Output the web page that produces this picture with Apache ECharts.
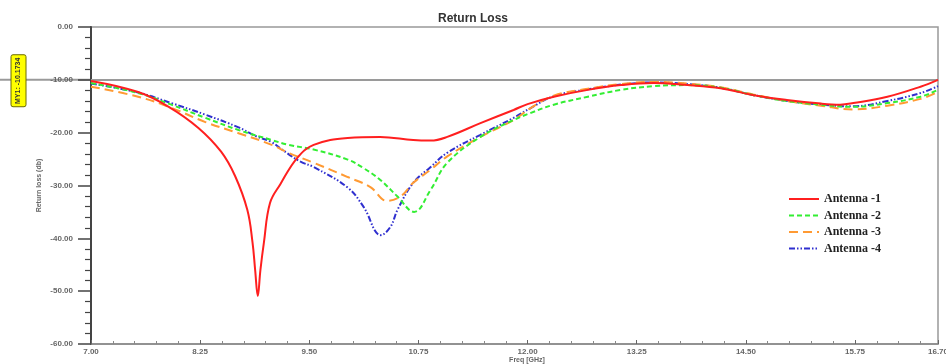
<!DOCTYPE html>
<html>
<head>
<meta charset="utf-8">
<script src="https://cdn.jsdelivr.net/npm/echarts@6/dist/echarts.min.js"></script>
<style>html,body{margin:0;padding:0;background:#fff}#c{width:946px;height:364px}</style>
</head>
<body>
<div id="c"></div>
<script>
var names = ['Antenna -1', 'Antenna -2', 'Antenna -3', 'Antenna -4'];
var freq1 = [7.0, 7.54, 7.89, 8.23, 8.49, 8.65, 8.79, 8.85, 8.88, 8.91, 8.94, 8.98, 9.05, 9.17, 9.36, 9.55, 9.94, 10.31, 10.69, 10.89, 11.08, 11.46, 11.84, 12.0, 12.3, 12.69, 13.07, 13.44, 13.83, 14.21, 14.59, 14.97, 15.36, 15.58, 15.73, 16.12, 16.5, 16.7];
var rl1   = [-10.2, -12.3, -15.1, -19.1, -23.6, -28.2, -34.6, -40.8, -46.0, -50.9, -46.0, -40.8, -33.3, -29.7, -24.8, -22.3, -21.0, -20.8, -21.4, -21.5, -20.8, -18.2, -15.7, -14.6, -13.2, -11.9, -11.0, -10.6, -11.0, -11.6, -12.9, -13.8, -14.5, -14.7, -14.4, -13.2, -11.3, -10.0];
var freq2 = [7.0, 7.54, 7.92, 8.31, 8.69, 9.07, 9.26, 9.55, 9.94, 10.12, 10.31, 10.51, 10.7, 10.89, 11.08, 11.46, 11.84, 12.03, 12.3, 12.69, 13.07, 13.44, 13.83, 14.21, 14.59, 14.97, 15.36, 15.73, 16.12, 16.5, 16.7];
var rl2   = [-10.6, -12.5, -14.7, -17.2, -19.5, -21.4, -22.3, -23.2, -25.1, -26.7, -28.9, -32.1, -35.0, -30.8, -25.7, -20.8, -17.6, -16.3, -14.7, -13.2, -11.9, -11.2, -11.0, -11.5, -12.9, -14.0, -14.7, -15.1, -14.4, -13.2, -11.9];
var freq3 = [7.0, 7.54, 7.92, 8.31, 8.69, 9.07, 9.26, 9.55, 9.94, 10.2, 10.39, 10.55, 10.69, 10.89, 11.08, 11.46, 11.84, 12.03, 12.3, 12.69, 13.07, 13.44, 13.83, 14.21, 14.59, 14.97, 15.36, 15.73, 16.12, 16.5, 16.7];
var rl3   = [-11.3, -13.2, -15.3, -18.0, -20.1, -22.3, -23.8, -25.7, -28.4, -30.3, -32.9, -32.0, -29.5, -27.0, -24.5, -20.8, -17.6, -15.4, -13.0, -11.7, -10.8, -10.4, -10.7, -11.4, -12.8, -14.0, -14.9, -15.6, -14.9, -13.6, -12.3];
var freq4 = [7.0, 7.54, 7.92, 8.31, 8.69, 8.88, 9.07, 9.17, 9.4, 9.55, 9.94, 10.12, 10.32, 10.43, 10.51, 10.69, 10.89, 11.08, 11.46, 11.84, 12.03, 12.3, 12.69, 13.07, 13.44, 13.83, 14.21, 14.59, 14.97, 15.36, 15.73, 16.12, 16.5, 16.7];
var rl4   = [-10.7, -12.4, -14.4, -16.6, -19.0, -20.6, -21.8, -23.0, -25.5, -26.5, -30.4, -34.0, -39.4, -37.8, -34.6, -29.5, -26.5, -23.8, -20.4, -17.2, -15.4, -13.1, -11.8, -10.9, -10.5, -10.8, -11.5, -12.9, -14.0, -14.7, -15.0, -14.0, -12.5, -11.2];
var markerValue = -10.1734;
var markerLabel = 'MY1: -10.1734';

function pairs(f, v) { return f.map(function (x, i) { return [x, v[i]]; }); }
var colors = ['#ff1f1f', '#33ee33', '#ff9a33', '#2f2fcf'];
var dashes = ['solid', [5, 3], [9, 5], [6, 2, 1.5, 2, 1.5, 2]];
var sets = [[freq1, rl1], [freq2, rl2], [freq3, rl3], [freq4, rl4]];

var chart = echarts.init(document.getElementById('c'), null, {renderer: 'canvas'});
var series = sets.map(function (s, i) {
  return {
    name: names[i], type: 'line', data: pairs(s[0], s[1]),
    smooth: 0.4, showSymbol: false, symbol: 'none', z: 10 - i,
    lineStyle: {color: colors[i], width: 2, type: dashes[i]},
    itemStyle: {color: colors[i]}
  };
});
series[0].markLine = {
  silent: true, symbol: 'none', label: {show: false},
  lineStyle: {color: '#9a9a9a', width: 2, type: 'solid'},
  data: [{yAxis: -10}]
};

var axisLabelStyle = {color: '#666', fontSize: 8, fontFamily: 'Arial, Liberation Sans, sans-serif', fontWeight: 'bold'};
chart.setOption({
  animation: false,
  backgroundColor: '#fff',
  title: {text: 'Return Loss', left: 'center', top: 8,
    textStyle: {fontSize: 12, fontWeight: 'bold', color: '#333', fontFamily: 'Arial, Liberation Sans, sans-serif'}},
  grid: {left: 91, right: 8, top: 27, bottom: 20, show: true, borderColor: '#999', borderWidth: 1.5,
    containLabel: false, outerBoundsMode: 'none'},
  legend: {
    orient: 'vertical', left: 783, top: 188, itemWidth: 30, itemHeight: 12, itemGap: 4.5,
    data: names, itemStyle: {opacity: 0},
    textStyle: {fontFamily: 'Liberation Serif, Times New Roman, serif', fontSize: 12, color: '#222', fontWeight: 'bold'}
  },
  xAxis: {
    type: 'value', min: 7, max: 16.7, interval: 1.25,
    name: 'Freq [GHz]', nameLocation: 'middle', nameGap: 13, nameMoveOverlap: false,
    nameTextStyle: {fontSize: 7, color: '#666', fontWeight: 'bold', padding: [0, 0, 0, 25]},
    axisLine: {onZero: false, lineStyle: {color: '#888', width: 1.5}},
    axisTick: {inside: true, length: 4, lineStyle: {color: '#666'}},
    minorTick: {show: true, splitNumber: 5, length: 3, lineStyle: {color: '#888'}},
    splitLine: {show: false},
    axisLabel: Object.assign({margin: 4, formatter: function (v) { return v.toFixed(2); }}, axisLabelStyle)
  },
  yAxis: {
    type: 'value', min: -60, max: 0, interval: 10,
    name: 'Return loss (db)', nameLocation: 'middle', nameGap: 48, nameRotate: 90, nameMoveOverlap: false,
    nameTextStyle: {fontSize: 7, color: '#666', fontWeight: 'bold'},
    axisLine: {onZero: false, lineStyle: {color: '#444', width: 2}},
    axisTick: {length: 13, lineStyle: {color: '#444', width: 1.5}},
    minorTick: {show: true, splitNumber: 5, length: 6, lineStyle: {color: '#444', width: 1.2}},
    splitLine: {show: false},
    axisLabel: Object.assign({margin: 18, formatter: function (v) { return v.toFixed(2); }}, axisLabelStyle)
  },
  series: series
});

// extend the marker line to the left edge and add the marker tag
var yPix = chart.convertToPixel({yAxisIndex: 0}, -10);
var yMk = chart.convertToPixel({yAxisIndex: 0}, markerValue);
chart.setOption({
  graphic: [
    {type: 'line', shape: {x1: 0, y1: yPix, x2: 91, y2: yPix}, style: {stroke: '#9a9a9a', lineWidth: 2}, z: 0},
    {type: 'rect', shape: {x: 11, y: yMk - 26, width: 15, height: 52, r: 2},
      style: {fill: '#ffff00', stroke: '#6b6b00', lineWidth: 1}, z: 5},
    {type: 'text', x: 18.5, y: yMk, rotation: Math.PI / 2, z: 6,
      style: {text: markerLabel, fill: '#333', font: 'bold 7px Arial, Liberation Sans, sans-serif', align: 'center', verticalAlign: 'middle'}}
  ]
});
</script>
</body>
</html>
